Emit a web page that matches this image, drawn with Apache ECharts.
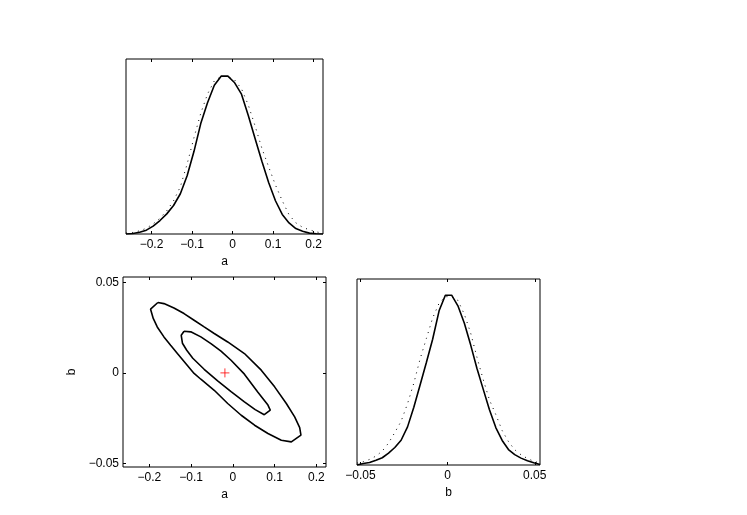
<!DOCTYPE html>
<html>
<head>
<meta charset="utf-8">
<script src="https://cdn.jsdelivr.net/npm/echarts@6/dist/echarts.min.js"></script>
<style>html,body{margin:0;padding:0;background:#fff;}#c{width:747px;height:515px;}</style>
</head>
<body>
<div id="c"></div>
<script>
// ---- data ----
const aTicks = [-0.2, -0.1, 0, 0.1, 0.2];
const bTicks = [-0.05, 0, 0.05];
const aRange = [-0.263, 0.223];
const bRange = [-0.052, 0.053];

const aGrid = [-0.263, -0.2462, -0.2295, -0.2127, -0.1960, -0.1792, -0.1624, -0.1457, -0.1289, -0.1122,
  -0.0954, -0.0786, -0.0619, -0.0451, -0.0284, -0.0116, 0.0051, 0.0219, 0.0387, 0.0554,
  0.0722, 0.0889, 0.1057, 0.1225, 0.1392, 0.1560, 0.1727, 0.1895, 0.2063, 0.2230];
const aPost = [0.000, 0.003, 0.010, 0.022, 0.045, 0.077, 0.115, 0.163, 0.230, 0.333,
  0.471, 0.631, 0.750, 0.850, 0.902, 0.902, 0.864, 0.799, 0.677, 0.546,
  0.416, 0.294, 0.190, 0.112, 0.063, 0.031, 0.016, 0.005, 0.001, 0.000];
const aApprox = [0.005, 0.009, 0.018, 0.033, 0.058, 0.090, 0.133, 0.190, 0.270, 0.400,
  0.550, 0.690, 0.800, 0.875, 0.900, 0.900, 0.880, 0.830, 0.737, 0.618,
  0.490, 0.384, 0.280, 0.190, 0.110, 0.064, 0.038, 0.024, 0.012, 0.005];

const bGrid = [-0.0520, -0.0484, -0.0448, -0.0411, -0.0375, -0.0339, -0.0303, -0.0267, -0.0230, -0.0194,
  -0.0158, -0.0122, -0.0086, -0.0049, -0.0013, 0.0023, 0.0059, 0.0096, 0.0132, 0.0168,
  0.0204, 0.0240, 0.0277, 0.0313, 0.0349, 0.0385, 0.0421, 0.0458, 0.0494, 0.0530];
const bPost = [0.000, 0.008, 0.013, 0.026, 0.039, 0.064, 0.094, 0.133, 0.205, 0.310,
  0.430, 0.551, 0.676, 0.829, 0.913, 0.913, 0.856, 0.762, 0.646, 0.520,
  0.408, 0.297, 0.200, 0.132, 0.083, 0.056, 0.037, 0.023, 0.012, 0.003];
const bApprox = [0.010, 0.018, 0.030, 0.048, 0.075, 0.118, 0.175, 0.235, 0.330, 0.440,
  0.570, 0.680, 0.790, 0.870, 0.905, 0.905, 0.885, 0.810, 0.710, 0.580,
  0.460, 0.350, 0.270, 0.185, 0.126, 0.082, 0.055, 0.035, 0.020, 0.010];

// outer contour (a, b)
const outerA = [-0.1795, -0.165, -0.141, -0.1169, -0.0928, -0.0687, -0.0446, -0.0123, 0.0277, 0.068,
  0.100, 0.128, 0.148, 0.160, 0.163, 0.140, 0.116, 0.084, 0.052, 0.020,
  -0.0123, -0.0446, -0.0766, -0.0928, -0.1128, -0.1328, -0.149, -0.165, -0.181, -0.1906, -0.197, -0.1795];
const outerB = [0.0389, 0.0383, 0.0359, 0.0328, 0.0291, 0.0254, 0.0218, 0.0171, 0.0107, 0.0015,
  -0.0077, -0.0169, -0.0243, -0.0302, -0.0344, -0.0381, -0.0372, -0.0335, -0.0289, -0.0234,
  -0.0169, -0.0096, -0.0035, -0.0003, 0.0052, 0.0107, 0.0153, 0.0199, 0.0254, 0.0301, 0.0352, 0.0389];
// inner contour (a, b)
const innerA = [-0.1169, -0.1007, -0.0766, -0.0525, -0.0284, -0.0043, 0.0277, 0.060, 0.084, 0.0896,
  0.0752, 0.0535, 0.0277, -0.0043, -0.0364, -0.0687, -0.0959, -0.1104, -0.1207, -0.1236, -0.1169];
const innerB = [0.0230, 0.0227, 0.0199, 0.0162, 0.0120, 0.0070, -0.0007, -0.0107, -0.0178, -0.0206,
  -0.0231, -0.0203, -0.0160, -0.0104, -0.0044, 0.0020, 0.0081, 0.0125, 0.0164, 0.0208, 0.0230];
const bestA = [-0.019];
const bestB = [0];

// ---- chart ----
const FONT = 'Liberation Sans, Arial, Helvetica, sans-serif';
function fmt(v) {
  if (Math.abs(v) < 1e-12) return '0';
  return String(+v.toFixed(3)).replace('-', '\u2212');
}
function zip(x, y) { return x.map((v, i) => [v, y[i]]); }

function xAx(grid, range, ticks, pos, showLabel, name) {
  return {
    type: 'value', gridIndex: grid, min: range[0], max: range[1], position: pos,
    axisLine: { show: false, onZero: false },
    axisTick: { show: true, inside: true, length: 3, customValues: ticks, lineStyle: { color: '#000', width: 1 } },
    axisLabel: { show: showLabel, customValues: ticks, formatter: fmt, fontSize: 12, color: '#000', fontFamily: FONT, margin: 5 },
    splitLine: { show: false },
    name: name || '', nameLocation: 'middle', nameGap: 22,
    nameTextStyle: { fontSize: 12, color: '#000', fontFamily: FONT }
  };
}
function yAx(grid, range, ticks, pos, showLabel, name) {
  return {
    type: 'value', gridIndex: grid, min: range[0], max: range[1], position: pos,
    axisLine: { show: false, onZero: false },
    axisTick: { show: !!ticks, inside: true, length: 3, customValues: ticks || [], lineStyle: { color: '#000', width: 1 } },
    axisLabel: { show: showLabel, customValues: ticks || [], formatter: fmt, fontSize: 12, color: '#000', fontFamily: FONT, margin: 4 },
    splitLine: { show: false },
    name: name || '', nameLocation: 'middle', nameGap: 45,
    nameTextStyle: { fontSize: 12, color: '#000', fontFamily: FONT }
  };
}

const gridStyle = { show: true, borderColor: '#000', borderWidth: 1, backgroundColor: '#fff', containLabel: false };
const solid = { color: '#000', width: 1.6 };
const dotted = { color: '#000', width: 1, type: [1, 5] };
const option = {
  animation: false,
  backgroundColor: '#fff',
  grid: [
    Object.assign({ left: 126, top: 59, width: 197, height: 175 }, gridStyle),
    Object.assign({ left: 123, top: 277, width: 203, height: 190 }, gridStyle),
    Object.assign({ left: 357, top: 279, width: 183, height: 186 }, gridStyle)
  ],
  xAxis: [
    xAx(0, aRange, aTicks, 'bottom', true, 'a'),
    xAx(0, aRange, aTicks, 'top', false),
    xAx(1, aRange, aTicks, 'bottom', true, 'a'),
    xAx(1, aRange, aTicks, 'top', false),
    xAx(2, bRange, bTicks, 'bottom', true, 'b'),
    xAx(2, bRange, bTicks, 'top', false)
  ],
  yAxis: [
    yAx(0, [0, 1], null, 'left', false),
    yAx(1, bRange, bTicks, 'left', true, 'b'),
    yAx(1, bRange, bTicks, 'right', false),
    yAx(2, [0, 1], null, 'left', false)
  ],
  series: [
    { type: 'line', xAxisIndex: 0, yAxisIndex: 0, data: zip(aGrid, aApprox), showSymbol: false, silent: true, lineStyle: dotted },
    { type: 'line', xAxisIndex: 0, yAxisIndex: 0, data: zip(aGrid, aPost), showSymbol: false, silent: true, lineStyle: solid },
    { type: 'line', xAxisIndex: 4, yAxisIndex: 3, data: zip(bGrid, bApprox), showSymbol: false, silent: true, lineStyle: dotted },
    { type: 'line', xAxisIndex: 4, yAxisIndex: 3, data: zip(bGrid, bPost), showSymbol: false, silent: true, lineStyle: solid },
    { type: 'line', xAxisIndex: 2, yAxisIndex: 1, data: zip(outerA, outerB), showSymbol: false, silent: true, lineStyle: solid },
    { type: 'line', xAxisIndex: 2, yAxisIndex: 1, data: zip(innerA, innerB), showSymbol: false, silent: true, lineStyle: solid },
    { type: 'scatter', xAxisIndex: 2, yAxisIndex: 1, data: zip(bestA, bestB), silent: true,
      symbol: 'path://M0,5L10,5M5,0L5,10', symbolSize: 9,
      itemStyle: { color: 'rgba(0,0,0,0)', borderColor: '#ff0000', borderWidth: 1 } }
  ]
};
const chart = echarts.init(document.getElementById('c'), null, { renderer: 'canvas' });
chart.setOption(option);
</script>
</body>
</html>
